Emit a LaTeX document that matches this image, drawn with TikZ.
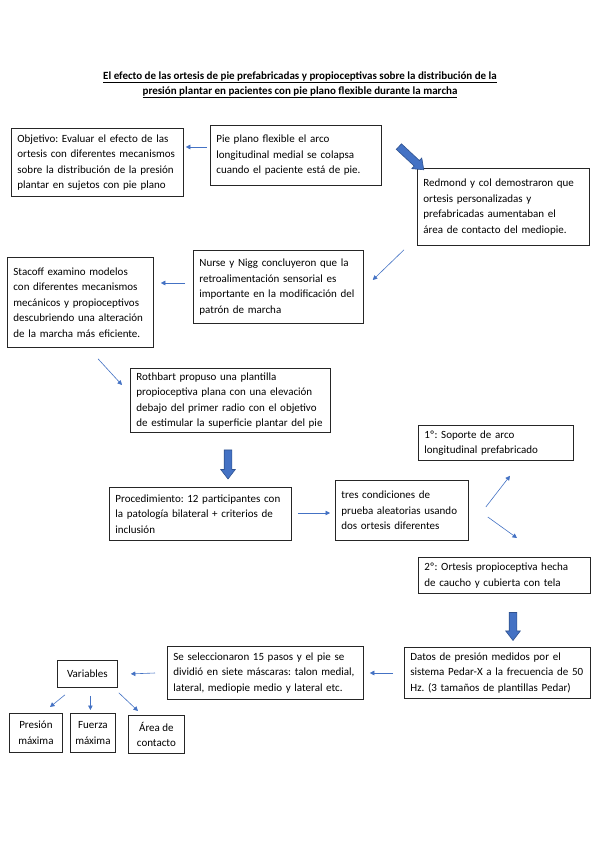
\documentclass[tikz,border=0pt]{standalone}
\usepackage{fontspec}
\setmainfont{Carlito}
\usepackage{tikz}
\usetikzlibrary{shapes,shapes.arrows}
\usetikzlibrary{arrows.meta}
\usetikzlibrary{positioning,calc}

\definecolor{wordblue}{RGB}{68,114,196}
\definecolor{wordblueline}{RGB}{47,82,143}
\frenchspacing

\begin{document}
\begin{tikzpicture}[x=1pt, y=-1pt,
    box/.style={draw=black!85, line width=0.8pt, anchor=north west, align=left,
        inner xsep=6pt, inner ysep=3pt, font=\fontsize{11}{15.5}\selectfont},
    smallbox/.style={draw=black!85, line width=0.8pt, anchor=north west, align=center,
        inner sep=2pt, font=\fontsize{11}{15.5}\selectfont},
    link/.style={draw=wordblue, line width=0.6pt, -{Triangle[length=4.5pt, width=4.5pt]}},
    fatarrow/.style={single arrow, draw=wordblueline, fill=wordblue, line width=0.6pt,
        inner sep=3.5pt, single arrow head extend=3.5pt, single arrow tip angle=75}]

    \fill[white] (0,0) rectangle (599,848);
    \useasboundingbox (0,0) rectangle (599,848);

    % title
    \node[align=center, font=\fontsize{11}{15}\selectfont\bfseries] (title) at (300,85)
        {\underline{El efecto de las ortesis de pie prefabricadas y propioceptivas sobre la distribución de la}\\
         \underline{presión plantar en pacientes con pie plano flexible durante la marcha}};

    % first rows
    \node[box, text width=160pt, minimum height=68pt] (obj) at (11,128)
        {Objetivo: Evaluar el efecto de las\\ortesis con diferentes mecanismos\\sobre la distribución de la presión\\plantar en sujetos con pie plano};
    \node[box, text width=159pt, minimum height=60pt] (pie) at (210,125)
        {Pie plano flexible el arco\\longitudinal medial se colapsa\\cuando el paciente está de pie.};
    \node[box, text width=160pt, minimum height=77pt] (red) at (417,168)
        {Redmond y col demostraron que\\ortesis personalizadas y\\prefabricadas aumentaban el\\área de contacto del mediopie.};
    \node[box, text width=158pt, minimum height=73pt] (nur) at (193,250)
        {Nurse y Nigg concluyeron que la\\retroalimentación sensorial es\\importante en la modificación del\\patrón de marcha};
    \node[box, text width=134pt, minimum height=90pt] (sta) at (7,257)
        {Stacoff examino modelos\\con diferentes mecanismos\\mecánicos y propioceptivos\\descubriendo una alteración\\de la marcha más eficiente.};
    \node[box, text width=188pt, minimum height=64pt] (rot) at (130,368)
        {Rothbart propuso una plantilla\\propioceptiva plana con una elevación\\debajo del primer radio con el objetivo\\de estimular la superficie plantar del pie};

    % procedure
    \node[box, text width=170pt, minimum height=53pt] (pro) at (109,487)
        {Procedimiento: 12 participantes con\\la patología bilateral + criterios de\\inclusión};
    \node[box, text width=121pt, minimum height=60pt] (tres) at (335,480)
        {tres condiciones de\\prueba aleatorias usando\\dos ortesis diferentes};
    \node[box, text width=143pt, minimum height=35pt] (one) at (418,425)
        {1º: Soporte de arco\\longitudinal prefabricado};
    \node[box, text width=160pt, minimum height=36pt] (two) at (418,557)
        {2º: Ortesis propioceptiva hecha\\de caucho y cubierta con tela};
    \node[box, text width=174pt, minimum height=51pt] (dat) at (404,647)
        {Datos de presión medidos por el\\sistema Pedar-X a la frecuencia de 50\\Hz. (3 tamaños de plantillas Pedar)};
    \node[box, text width=184pt, minimum height=53pt] (sel) at (167,646)
        {Se seleccionaron 15 pasos y el pie se\\dividió en siete máscaras: talon medial,\\lateral, mediopie medio y lateral etc.};

    % variables
    \node[smallbox, minimum width=60pt, minimum height=27pt] (var) at (57,660) {Variables};
    \node[smallbox, minimum width=53pt, minimum height=39pt] (pre) at (9,713) {Presión\\máxima};
    \node[smallbox, minimum width=45pt, minimum height=39pt] (fue) at (70,713) {Fuerza\\máxima};
    \node[smallbox, minimum width=56pt, minimum height=38pt] (are) at (128,715) {Área de\\contacto};

    % block arrows
    \node[fatarrow, minimum height=34pt, rotate=-43] (down0) at (409.5,156.5) {};
    \node[fatarrow, minimum height=29pt, rotate=-90] (down1) at (228,462) {};
    \node[fatarrow, minimum height=28pt, rotate=-90] (down2) at (513,624) {};

    % thin arrows
    \draw[link] ($(pie.north west)+(-3,22)$) -- ($(obj.north east)+(2,19)$);
    \draw[link] ($(red.south west)+(-13,4)$) -- ($(nur.north east)+(9,30)$);
    \draw[link] ($(nur.north west)+(-8,33)$) -- ($(sta.north east)+(7,26)$);
    \draw[link] ($(sta.south west)+(91,11)$) -- ($(rot.north west)+(-8,17)$);
    \draw[link] ($(pro.north east)+(6,26)$) -- ($(tres.north west)+(-5,33)$);
    \draw[link] ($(tres.north east)+(17,27)$) -- ($(one.south west)+(92,15)$);
    \draw[link] ($(tres.north east)+(19,37)$) -- ($(two.north west)+(99,-19)$);
    \draw[link] ($(dat.north west)+(-11,26)$) -- ($(sel.north east)+(6,27)$);
    \draw[link] ($(sel.north west)+(-12,27)$) -- ($(var.east)+(13,0)$);
    \draw[link] ($(var.south west)+(8,7)$) -- ($(pre.north west)+(41,-6)$);
    \draw[link] ($(var.south)+(3,8)$) -- ($(fue.north)+(-2.5,-3)$);
    \draw[link] ($(var.south east)+(1,5)$) -- ($(are.north west)+(10,-4)$);
\end{tikzpicture}
\end{document}
